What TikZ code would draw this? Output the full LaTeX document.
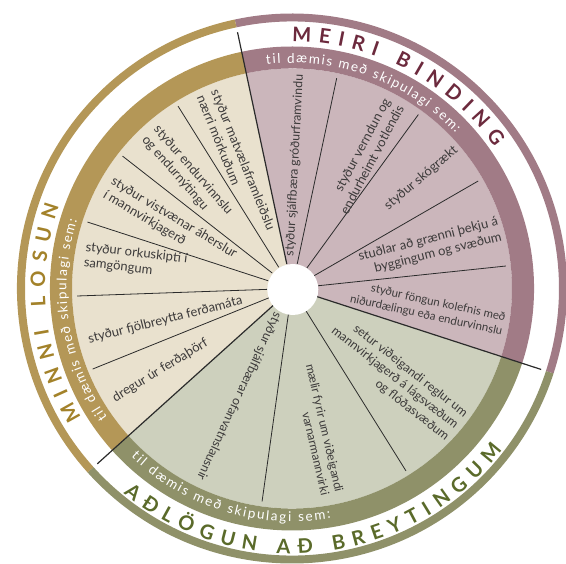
\documentclass[tikz,border=0pt]{standalone}
\usepackage{fontspec}
\setmainfont{Lato}
\usetikzlibrary{decorations.text}
\definecolor{tanD}{HTML}{B49757}
\definecolor{tanL}{HTML}{E9E1CE}
\definecolor{tanT}{HTML}{A3822A}
\definecolor{purD}{HTML}{A17B86}
\definecolor{purL}{HTML}{CBB6BB}
\definecolor{purT}{HTML}{6C2A3D}
\definecolor{grnD}{HTML}{8F9169}
\definecolor{grnL}{HTML}{CDD0BD}
\definecolor{grnT}{HTML}{5A6A2A}
\definecolor{lineC}{HTML}{2B2B2B}
\definecolor{txtC}{HTML}{3C3A3A}
\newcommand\ringseg[5]{%
  \fill[#1] (#2:#5) arc[start angle=#2, end angle=#3, radius=#5] -- (#3:#4) arc[start angle=#3, end angle=#2, radius=#4] -- cycle;}
\newcommand\wedgefill[4]{%
  \fill[#1] (0,0) -- (#2:#4) arc[start angle=#2, end angle=#3, radius=#4] -- cycle;}
\newcommand\titlesty{\fontsize{20}{24}\selectfont\bfseries}
\newcommand\bandsty{\fontsize{13.5}{16}\selectfont}
\tikzset{
  mainline/.style={draw=lineC, line width=1.2pt},
  subline/.style={draw=lineC, line width=0.8pt},
  itxt/.style={font=\fontsize{13}{15.5}\selectfont, text=txtC, inner sep=0pt},
  smalltxt/.style={font=\fontsize{12.4}{15}\selectfont},
  outR/.style={itxt, anchor=east, align=right},
  outL/.style={itxt, anchor=west, align=left},
}
\begin{document}
\begin{tikzpicture}[x=1pt,y=1pt]
\useasboundingbox (-292,-275.5) rectangle (274,288.5);
% pale sectors
\wedgefill{purL}{-18}{102}{220}
\wedgefill{tanL}{102}{222}{220}
\wedgefill{grnL}{222}{342}{220}
% bands
\ringseg{purD}{-18}{102}{220}{242}
\ringseg{tanD}{102}{222}{220}{242}
\ringseg{grnD}{222}{342}{220}{242}
% outer rings
\ringseg{purD}{-18}{102}{267}{275}
\ringseg{tanD}{102}{222}{267}{275}
\ringseg{grnD}{222}{342}{267}{275}
% sub dividers
\foreach \a in {78,54,30,6,122,142,162,182,202,262,302}
  \draw[subline] (\a:25) -- (\a:215);
% main dividers
\foreach \a in {102,222,342}
  \draw[mainline] (\a:25) -- (\a:262);
% hole
\fill[white] (0.8,-1) circle[radius=25.5];
% titles
\path[decorate, decoration={text along path, text color=purT, text align={fit to path},
  text={|\titlesty|MEIRI BINDING}}] (90:247) arc[start angle=90, end angle=35, radius=247];
\path[decorate, decoration={text along path, text color=tanT, text align={fit to path},
  text={|\titlesty|MINNI LOSUN}}] (211.5:247) arc[start angle=211.5, end angle=160.5, radius=247];
\path[decorate, decoration={text along path, text color=grnT, text align={fit to path},
  text={|\titlesty|AÐLÖGUN AÐ BREYTINGUM}}] (230.5:265) arc[start angle=230.5, end angle=322.5, radius=265];
% band texts
\path[decorate, decoration={text along path, text color=white, text align={fit to path},
  text={|\bandsty|til dæmis með skipulagi sem:}}] (96.5:225.5) arc[start angle=96.5, end angle=43.5, radius=225.5];
\path[decorate, decoration={text along path, text color=white, text align={fit to path},
  text={|\bandsty|til dæmis með skipulagi sem:}}] (215:225.5) arc[start angle=215, end angle=162.3, radius=225.5];
\path[decorate, decoration={text along path, text color=white, text align={fit to path},
  text={|\bandsty|til dæmis með skipulagi sem:}}] (226.3:233) arc[start angle=226.3, end angle=279.6, radius=233];
% purple items
\node[outR, smalltxt, rotate=87] (p1) at (88:214) {styður sjálfbæra gróðurframvindu};
\node[outR, rotate=62] (p2) at (61.4:212) {styður verndun og\\endurheimt votlendis};
\node[outR, rotate=40.5] (p3) at (40.5:216) {styður skógrækt};
\node[outR, rotate=14.3] (p4) at (15.9:216) {stuðlar að grænni þekju á\\byggingum og svæðum};
\node[outR, font=\fontsize{11.5}{14.5}\selectfont, rotate=-12.3] (p5) at (-9.8:215) {styður föngun kolefnis með\\niðurdælingu eða endurvinnslu};
% tan items
\node[outL, rotate=-68] (t1) at (113.2:213) {styður matvælaframleiðslu\\nærri mörkuðum};
\node[outL, rotate=-49] (t2) at (132.3:211) {styður endurvinnslu\\og endurnýtingu};
\node[outL, rotate=-31] (t3) at (151.2:210) {styður vistvænar áherslur\\í mannvirkjagerð};
\node[outL, rotate=-6.5] (t4) at (170.9:210) {styður orkuskipti í\\samgöngum};
\node[outL, rotate=14.2] (t5) at (194.1:210) {styður fjölbreytta ferðamáta};
\node[outL, rotate=31.4] (t6) at (211.8:210) {dregur úr ferðaþörf};
% green items
\node[outR, smalltxt, rotate=245] (g1) at (244.3:212) {styður sjálfbærar ofanvatnslausnir};
\node[outR, font=\fontsize{12}{14.5}\selectfont, rotate=283] (g2) at (281.2:209) {mælir fyrir um viðeigandi\\varnarmannvirki};
\node[outR, smalltxt, rotate=321.8] (g3) at (320:215) {setur viðeigandi reglur um\\mannvirkjagerð á lágsvæðum\\og flóðasvæðum};
\end{tikzpicture}
\end{document}
